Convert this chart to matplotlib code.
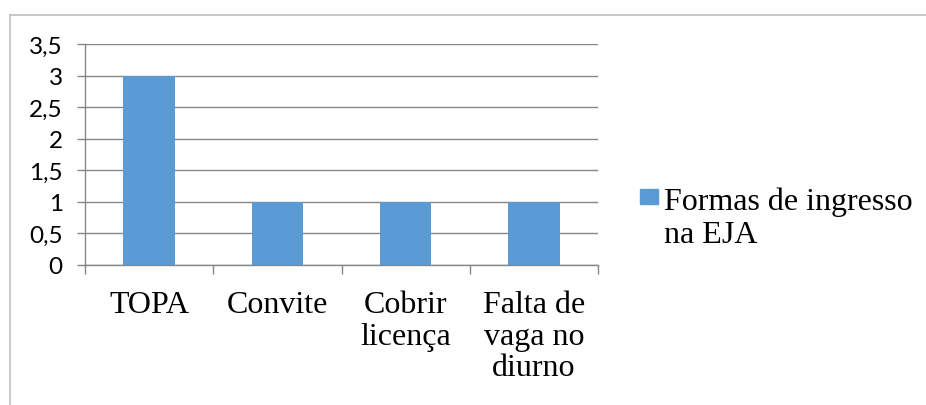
import matplotlib.pyplot as plt
from matplotlib.lines import Line2D
from matplotlib.patches import Rectangle

categories = ['TOPA', 'Convite', 'Cobrir\nlicença', 'Falta de\nvaga no\ndiurno']
values = [3, 1, 1, 1]
series_name = 'Formas de ingresso\nna EJA'
yticks = [0, 0.5, 1, 1.5, 2, 2.5, 3, 3.5]
ytick_labels = ['0', '0,5', '1', '1,5', '2', '2,5', '3', '3,5']

bar_color = '#5B9BD5'
grid_color = '#868686'
border_color = '#BFBFBF'

plt.rcParams['font.family'] = ['Liberation Serif', 'DejaVu Serif']

W, H = 926, 406
fig = plt.figure(figsize=(W / 100, H / 100), dpi=100)
ax = fig.add_axes([85 / W, 140 / H, 513 / W, 221 / H])

x = list(range(len(categories)))
ax.bar(x, values, width=0.4, color=bar_color, zorder=3)

ax.set_xlim(-0.5, len(categories) - 0.5)
ax.set_ylim(0, 3.5)

# y axis: gridlines plus short outward ticks
ax.set_yticks(yticks)
ax.set_yticklabels(ytick_labels)
for lbl in ax.get_yticklabels():
    lbl.set_fontfamily('Lato')
    lbl.set_fontsize(17.5)
ax.tick_params(axis='y', length=6, width=1, color=grid_color, pad=10)
ax.yaxis.grid(True, color=grid_color, linewidth=1, zorder=0)

# x axis: ticks on category boundaries, labels at centres
ax.set_xticks([i - 0.5 for i in range(len(categories) + 1)])
ax.set_xticklabels([])
ax.tick_params(axis='x', which='major', length=6.5, width=1, color=grid_color)
ax.set_xticks(x, minor=True)
ax.set_xticklabels(categories, minor=True)
ax.tick_params(axis='x', which='minor', length=0, pad=18, labelsize=23)
for lbl in ax.get_xticklabels(minor=True):
    lbl.set_linespacing(1.12)

for side in ['top', 'right']:
    ax.spines[side].set_visible(False)
for side in ['left', 'bottom']:
    ax.spines[side].set_color(grid_color)
    ax.spines[side].set_linewidth(1)

# legend: square marker beside the first line of the series name
fig.add_artist(Rectangle((640 / W, 1 - 205 / H), 18 / W, 15 / H,
                         transform=fig.transFigure, color=bar_color))
fig.text(664 / W, 1 - 243 / H, series_name, fontsize=23, va='baseline',
         ha='left', linespacing=1.2)

# chart area outline (left and top edges)
fig.add_artist(Line2D([9.5 / W, 9.5 / W], [0, 1 - 16 / H],
                      transform=fig.transFigure, color=border_color, linewidth=1.2))
fig.add_artist(Line2D([9.5 / W, 1], [1 - 16 / H, 1 - 16 / H],
                      transform=fig.transFigure, color=border_color, linewidth=1.2))

fig.savefig('out.png', dpi=100)
